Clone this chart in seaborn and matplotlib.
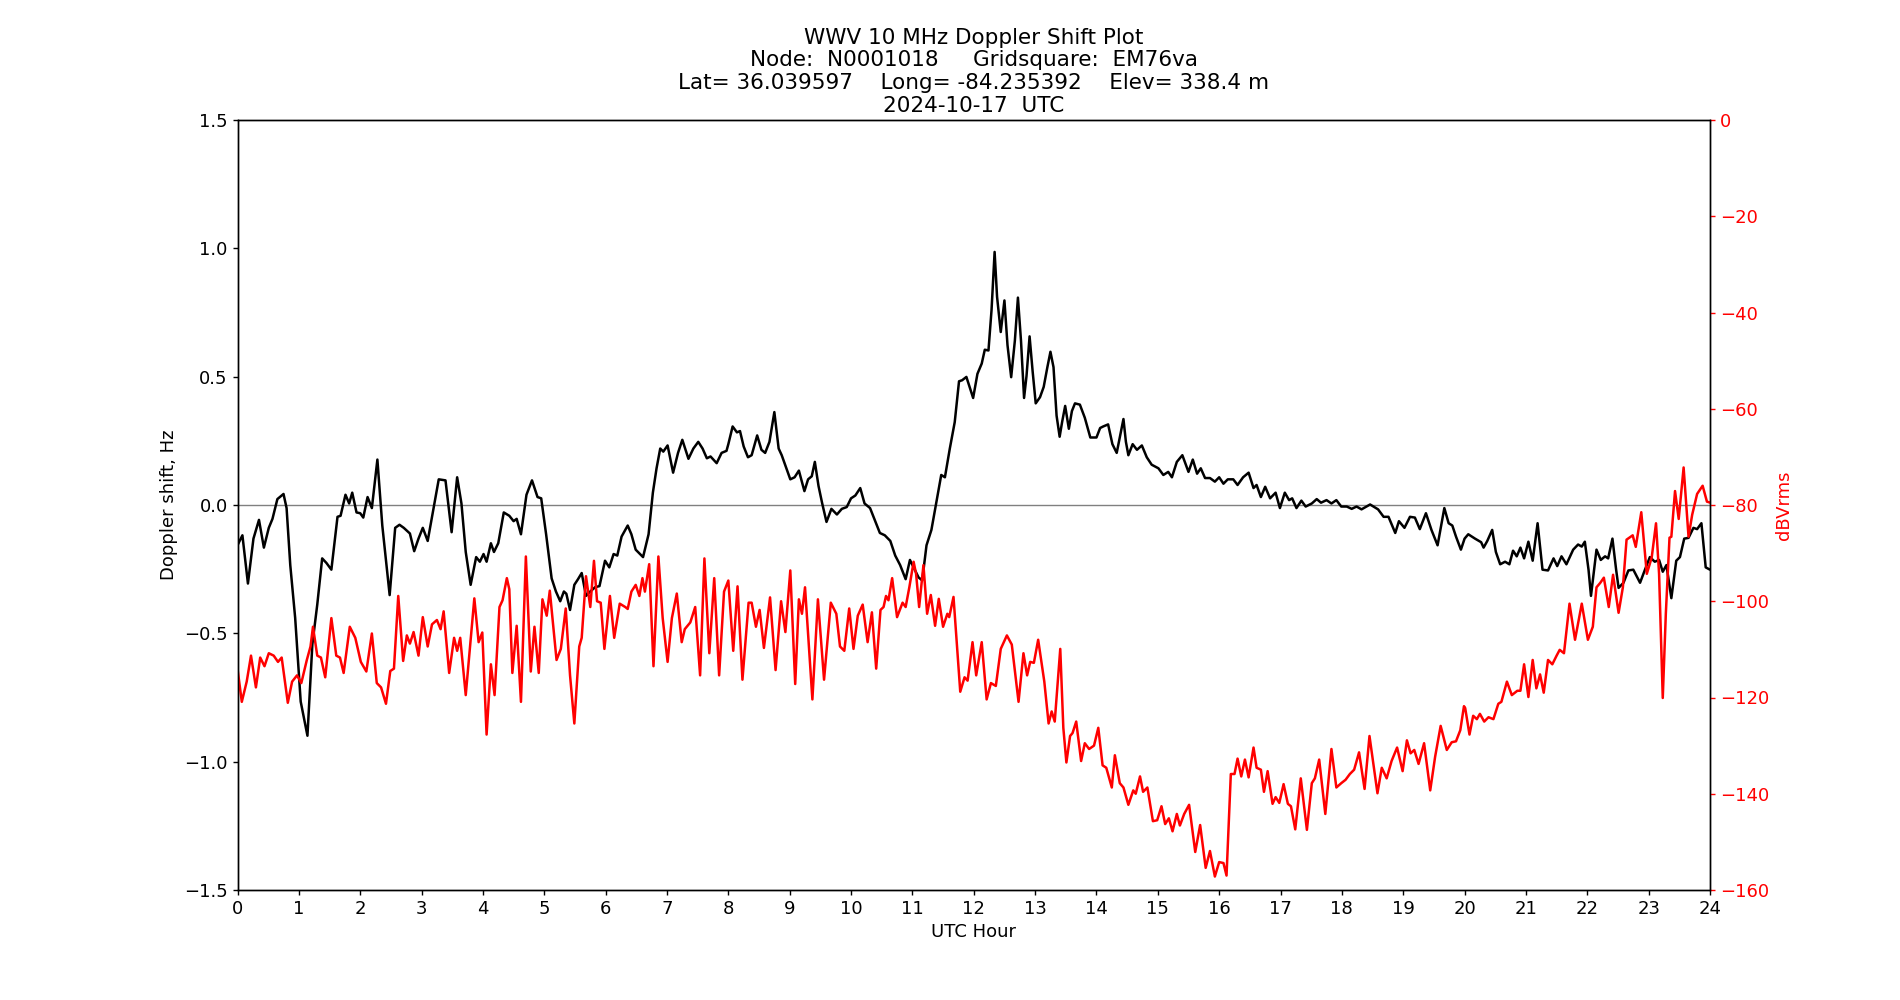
import matplotlib
matplotlib.use("Agg")
import matplotlib.pyplot as plt
import seaborn as sns
import pandas as pd

# ---------------- Doppler shift (Hz) ----------------
dop_hour = [0.00, 0.08, 0.17, 0.26, 0.35, 0.43, 0.51, 0.57, 0.65, 0.75, 0.80, 0.86, 0.94, 1.03, 1.14, 1.22,
            1.30, 1.38, 1.45, 1.53, 1.63, 1.68, 1.76, 1.82, 1.87, 1.94, 2.00, 2.05, 2.12, 2.19, 2.28, 2.36,
            2.48, 2.57, 2.64, 2.71, 2.81, 2.88, 2.95, 3.02, 3.10, 3.19, 3.28, 3.39, 3.49, 3.58, 3.65, 3.72,
            3.80, 3.89, 3.95, 4.01, 4.06, 4.13, 4.18, 4.25, 4.34, 4.43, 4.50, 4.55, 4.62, 4.71, 4.80, 4.89,
            4.95, 5.03, 5.12, 5.19, 5.26, 5.32, 5.36, 5.42, 5.49, 5.55, 5.61, 5.68, 5.75, 5.83, 5.90, 5.99,
            6.06, 6.13, 6.19, 6.26, 6.36, 6.42, 6.49, 6.61, 6.70, 6.77, 6.83, 6.89, 6.94, 7.01, 7.10, 7.18,
            7.25, 7.35, 7.43, 7.51, 7.58, 7.65, 7.71, 7.81, 7.89, 7.97, 8.00, 8.07, 8.14, 8.19, 8.25, 8.32,
            8.38, 8.47, 8.54, 8.60, 8.67, 8.75, 8.82, 8.87, 8.92, 9.01, 9.08, 9.15, 9.24, 9.30, 9.36, 9.41,
            9.47, 9.53, 9.60, 9.68, 9.77, 9.85, 9.93, 10.00, 10.07, 10.15, 10.22, 10.31, 10.38, 10.47, 10.55,
            10.64, 10.72, 10.80, 10.89, 10.96, 11.02, 11.10, 11.16, 11.23, 11.31, 11.40, 11.47, 11.53, 11.61,
            11.69, 11.76, 11.81, 11.88, 11.99, 12.06, 12.13, 12.18, 12.24, 12.29, 12.34, 12.38, 12.44, 12.50,
            12.55, 12.61, 12.67, 12.72, 12.77, 12.82, 12.86, 12.91, 12.96, 13.01, 13.08, 13.14, 13.20, 13.25,
            13.30, 13.35, 13.40, 13.44, 13.49, 13.55, 13.60, 13.65, 13.73, 13.81, 13.90, 14.00, 14.06, 14.11,
            14.19, 14.26, 14.33, 14.38, 14.44, 14.48, 14.52, 14.59, 14.66, 14.74, 14.82, 14.90, 15.01, 15.09,
            15.17, 15.23, 15.31, 15.40, 15.50, 15.57, 15.64, 15.70, 15.77, 15.85, 15.93, 16.00, 16.07, 16.14,
            16.23, 16.30, 16.39, 16.48, 16.56, 16.61, 16.68, 16.75, 16.83, 16.92, 16.99, 17.07, 17.14, 17.19,
            17.26, 17.34, 17.41, 17.51, 17.59, 17.66, 17.75, 17.83, 17.91, 17.99, 18.08, 18.16, 18.24, 18.32,
            18.46, 18.59, 18.68, 18.76, 18.87, 18.93, 19.02, 19.11, 19.19, 19.27, 19.37, 19.46, 19.56, 19.67,
            19.74, 19.80, 19.86, 19.94, 20.00, 20.06, 20.17, 20.27, 20.31, 20.37, 20.45, 20.51, 20.58, 20.66,
            20.73, 20.79, 20.85, 20.91, 20.97, 21.04, 21.11, 21.19, 21.27, 21.36, 21.45, 21.51, 21.58, 21.66,
            21.77, 21.85, 21.91, 21.96, 22.02, 22.06, 22.15, 22.22, 22.29, 22.34, 22.41, 22.47, 22.51, 22.59,
            22.67, 22.75, 22.86, 22.94, 23.02, 23.10, 23.17, 23.23, 23.29, 23.37, 23.45, 23.51, 23.58, 23.65,
            23.73, 23.79, 23.86, 23.93, 24.00]
dop_hz = [-0.157, -0.118, -0.306, -0.131, -0.058, -0.166, -0.089, -0.054, 0.023, 0.043, -0.012, -0.234, -0.440,
          -0.766, -0.899, -0.543, -0.388, -0.208, -0.226, -0.252, -0.046, -0.042, 0.040, 0.006, 0.048, -0.029,
          -0.032, -0.049, 0.031, -0.012, 0.177, -0.080, -0.351, -0.089, -0.077, -0.089, -0.111, -0.180, -0.131,
          -0.089, -0.140, -0.020, 0.100, 0.096, -0.106, 0.108, 0.006, -0.183, -0.311, -0.203, -0.221, -0.191,
          -0.221, -0.149, -0.183, -0.149, -0.029, -0.042, -0.063, -0.054, -0.114, 0.040, 0.096, 0.031, 0.026,
          -0.114, -0.286, -0.337, -0.375, -0.337, -0.346, -0.409, -0.311, -0.289, -0.265, -0.354, -0.337,
          -0.320, -0.316, -0.217, -0.243, -0.191, -0.197, -0.123, -0.080, -0.114, -0.174, -0.203, -0.114,
          0.048, 0.143, 0.220, 0.208, 0.232, 0.126, 0.203, 0.254, 0.180, 0.220, 0.246, 0.220, 0.182, 0.189,
          0.163, 0.203, 0.211, 0.237, 0.306, 0.283, 0.288, 0.228, 0.186, 0.194, 0.271, 0.215, 0.203, 0.246,
          0.362, 0.220, 0.194, 0.160, 0.100, 0.108, 0.134, 0.054, 0.100, 0.112, 0.168, 0.074, 0.006, -0.066,
          -0.015, -0.037, -0.015, -0.008, 0.026, 0.037, 0.066, 0.006, -0.012, -0.054, -0.109, -0.118, -0.140,
          -0.197, -0.234, -0.289, -0.214, -0.243, -0.282, -0.294, -0.157, -0.097, 0.023, 0.117, 0.108, 0.220,
          0.323, 0.482, 0.486, 0.499, 0.417, 0.511, 0.551, 0.605, 0.602, 0.760, 0.986, 0.811, 0.674, 0.797,
          0.623, 0.498, 0.640, 0.808, 0.640, 0.417, 0.503, 0.657, 0.520, 0.396, 0.420, 0.460, 0.537, 0.597,
          0.537, 0.348, 0.266, 0.323, 0.386, 0.297, 0.366, 0.396, 0.391, 0.340, 0.263, 0.263, 0.300, 0.306,
          0.314, 0.237, 0.203, 0.263, 0.335, 0.246, 0.194, 0.237, 0.215, 0.232, 0.186, 0.157, 0.143, 0.117,
          0.129, 0.108, 0.168, 0.194, 0.129, 0.177, 0.122, 0.143, 0.105, 0.105, 0.091, 0.108, 0.083, 0.100,
          0.100, 0.078, 0.108, 0.126, 0.066, 0.078, 0.031, 0.071, 0.026, 0.048, -0.012, 0.048, 0.019, 0.026,
          -0.012, 0.017, -0.006, 0.006, 0.023, 0.009, 0.019, 0.006, 0.019, -0.006, -0.006, -0.015, -0.006,
          -0.017, 0.002, -0.017, -0.046, -0.046, -0.109, -0.063, -0.089, -0.046, -0.049, -0.094, -0.032,
          -0.097, -0.157, -0.012, -0.071, -0.080, -0.123, -0.174, -0.131, -0.114, -0.131, -0.145, -0.166,
          -0.140, -0.097, -0.183, -0.231, -0.221, -0.231, -0.178, -0.200, -0.166, -0.208, -0.143, -0.217,
          -0.071, -0.252, -0.255, -0.208, -0.238, -0.200, -0.231, -0.174, -0.154, -0.162, -0.143, -0.252,
          -0.354, -0.174, -0.214, -0.200, -0.208, -0.131, -0.252, -0.323, -0.303, -0.255, -0.252, -0.303,
          -0.252, -0.203, -0.221, -0.214, -0.260, -0.234, -0.363, -0.217, -0.203, -0.131, -0.128, -0.089,
          -0.094, -0.071, -0.243, -0.252]

# ---------------- Signal level (dBVrms) ----------------
amp_hour = [0.00, 0.07, 0.15, 0.22, 0.30, 0.37, 0.44, 0.51, 0.59, 0.66, 0.72, 0.82, 0.89, 0.97, 1.04, 1.13,
            1.19, 1.23, 1.30, 1.36, 1.43, 1.53, 1.61, 1.67, 1.73, 1.83, 1.92, 2.01, 2.10, 2.19, 2.27, 2.34,
            2.42, 2.49, 2.55, 2.62, 2.70, 2.76, 2.81, 2.87, 2.95, 3.02, 3.10, 3.17, 3.25, 3.31, 3.36, 3.45,
            3.53, 3.58, 3.63, 3.72, 3.86, 3.93, 3.99, 4.06, 4.13, 4.19, 4.27, 4.32, 4.39, 4.43, 4.48, 4.55,
            4.62, 4.70, 4.78, 4.84, 4.91, 4.97, 5.04, 5.09, 5.20, 5.27, 5.35, 5.42, 5.49, 5.57, 5.61, 5.68,
            5.75, 5.81, 5.86, 5.92, 5.98, 6.07, 6.14, 6.23, 6.32, 6.36, 6.42, 6.49, 6.55, 6.60, 6.64, 6.71,
            6.78, 6.86, 6.93, 7.01, 7.08, 7.16, 7.24, 7.29, 7.38, 7.46, 7.54, 7.61, 7.69, 7.77, 7.85, 7.93,
            8.00, 8.08, 8.15, 8.23, 8.33, 8.38, 8.45, 8.51, 8.58, 8.68, 8.77, 8.86, 8.93, 9.01, 9.09, 9.15,
            9.20, 9.25, 9.37, 9.46, 9.56, 9.67, 9.76, 9.82, 9.89, 9.97, 10.04, 10.11, 10.19, 10.27, 10.34,
            10.41, 10.48, 10.53, 10.57, 10.61, 10.67, 10.75, 10.84, 10.89, 10.95, 11.02, 11.06, 11.11, 11.18,
            11.24, 11.30, 11.37, 11.43, 11.50, 11.57, 11.60, 11.67, 11.78, 11.85, 11.90, 11.98, 12.04, 12.13,
            12.21, 12.28, 12.36, 12.44, 12.54, 12.62, 12.73, 12.81, 12.87, 12.92, 12.98, 13.05, 13.15, 13.22,
            13.27, 13.32, 13.41, 13.46, 13.51, 13.57, 13.61, 13.67, 13.75, 13.81, 13.88, 13.96, 14.03, 14.10,
            14.16, 14.25, 14.30, 14.38, 14.44, 14.52, 14.60, 14.64, 14.71, 14.76, 14.83, 14.92, 14.99, 15.06,
            15.12, 15.18, 15.24, 15.31, 15.36, 15.43, 15.51, 15.61, 15.69, 15.78, 15.85, 15.93, 16.00, 16.07,
            16.12, 16.19, 16.25, 16.30, 16.36, 16.42, 16.48, 16.56, 16.61, 16.68, 16.73, 16.79, 16.87, 16.92,
            16.98, 17.05, 17.12, 17.17, 17.24, 17.33, 17.43, 17.51, 17.56, 17.63, 17.73, 17.83, 17.91, 17.99,
            18.06, 18.13, 18.20, 18.28, 18.37, 18.45, 18.58, 18.65, 18.73, 18.81, 18.90, 18.99, 19.06, 19.12,
            19.18, 19.25, 19.34, 19.44, 19.52, 19.61, 19.71, 19.79, 19.86, 19.93, 19.99, 20.01, 20.08, 20.14,
            20.20, 20.25, 20.32, 20.39, 20.47, 20.55, 20.60, 20.69, 20.77, 20.86, 20.91, 20.97, 21.04, 21.11,
            21.17, 21.23, 21.29, 21.36, 21.43, 21.50, 21.55, 21.62, 21.71, 21.80, 21.91, 22.01, 22.09, 22.15,
            22.21, 22.27, 22.35, 22.42, 22.51, 22.58, 22.64, 22.74, 22.79, 22.88, 22.97, 23.05, 23.12, 23.17,
            23.23, 23.28, 23.34, 23.37, 23.43, 23.49, 23.57, 23.65, 23.71, 23.79, 23.88, 23.95, 24.00]
amp_db = [-114.0, -120.9, -116.7, -111.3, -117.9, -111.7, -113.5, -110.8, -111.3, -112.6, -111.7, -121.1,
          -116.7, -115.4, -117.0, -112.2, -109.4, -105.3, -111.3, -111.7, -115.8, -103.5, -111.3, -111.7,
          -114.9, -105.3, -107.6, -112.6, -114.6, -106.7, -117.0, -117.9, -121.3, -114.5, -114.0, -98.9,
          -112.4, -107.1, -108.8, -106.4, -111.3, -103.3, -109.4, -104.8, -103.9, -105.8, -102.1, -114.9,
          -107.6, -110.3, -107.6, -119.5, -99.4, -108.5, -106.5, -127.7, -113.1, -119.5, -101.2, -99.8,
          -95.2, -97.5, -114.9, -105.1, -120.9, -90.7, -114.6, -105.3, -114.9, -99.6, -103.0, -97.8,
          -112.2, -109.9, -101.5, -115.4, -125.4, -109.4, -107.6, -94.8, -101.2, -91.6, -100.0, -100.3,
          -109.9, -98.9, -107.6, -100.5, -101.2, -101.6, -98.0, -96.6, -98.9, -95.2, -98.0, -92.3,
          -113.5, -90.7, -103.5, -112.6, -103.5, -98.4, -108.5, -105.8, -104.4, -101.2, -115.4, -91.1,
          -110.8, -95.2, -115.4, -98.0, -95.7, -110.3, -96.9, -116.3, -100.3, -100.3, -105.3, -101.8,
          -109.7, -99.2, -114.3, -100.0, -106.4, -93.6, -117.2, -99.6, -102.6, -97.1, -120.4, -99.6,
          -116.3, -100.3, -102.6, -109.4, -110.3, -101.5, -109.9, -103.0, -100.7, -108.5, -102.3, -114.0,
          -101.8, -101.2, -98.9, -99.8, -95.2, -103.3, -100.3, -101.2, -97.1, -91.8, -94.3, -101.2, -92.5,
          -102.6, -98.7, -105.1, -99.5, -105.3, -102.6, -103.3, -99.1, -118.8, -115.8, -116.5, -108.5,
          -115.4, -108.5, -120.4, -117.0, -117.6, -109.9, -107.1, -109.0, -120.9, -110.8, -115.4, -112.6,
          -112.8, -108.0, -116.7, -125.4, -122.9, -125.0, -109.9, -126.3, -133.5, -128.0, -127.4, -125.0,
          -133.2, -129.5, -130.7, -130.0, -126.3, -134.1, -134.6, -138.7, -132.0, -137.8, -138.7, -142.3,
          -139.3, -140.0, -136.4, -139.6, -138.7, -145.7, -145.5, -142.6, -146.3, -145.1, -147.8, -144.2,
          -146.6, -144.2, -142.3, -152.1, -146.5, -155.4, -151.9, -157.2, -154.2, -154.4, -157.0, -135.9,
          -135.9, -132.7, -136.4, -132.9, -136.6, -130.4, -134.6, -135.0, -139.6, -135.3, -142.1, -140.7,
          -141.9, -138.0, -142.1, -142.6, -147.4, -136.8, -147.5, -137.8, -136.8, -132.9, -144.2, -130.7,
          -138.7, -137.8, -137.1, -135.9, -135.0, -131.4, -139.0, -128.0, -139.9, -134.6, -136.8, -133.2,
          -130.4, -135.3, -128.9, -131.6, -130.9, -133.8, -129.5, -139.3, -132.3, -125.9, -130.9, -129.3,
          -129.1, -126.8, -121.8, -122.2, -127.7, -123.8, -124.5, -123.4, -125.0, -124.1, -124.5, -121.3,
          -120.9, -116.7, -119.5, -118.6, -118.6, -113.1, -119.9, -112.2, -118.1, -115.2, -119.0, -112.2,
          -113.1, -111.3, -110.1, -110.8, -100.5, -108.0, -100.5, -108.0, -105.3, -97.1, -96.2, -95.1,
          -101.2, -94.5, -102.4, -97.1, -87.2, -86.3, -88.7, -81.5, -94.3, -90.9, -83.8, -94.3, -120.1,
          -102.6, -86.8, -86.6, -77.1, -82.9, -72.2, -86.6, -82.0, -77.7, -76.0, -79.3, -79.5]

title_lines = ["WWV 10 MHz Doppler Shift Plot",
               "Node:  N0001018     Gridsquare:  EM76va",
               "Lat= 36.039597    Long= -84.235392    Elev= 338.4 m",
               "2024-10-17  UTC"]
x_ticks = list(range(0, 25))
left_ticks = [-1.5, -1.0, -0.5, 0.0, 0.5, 1.0, 1.5]
right_ticks = [-160, -140, -120, -100, -80, -60, -40, -20, 0]

sns.set_style("white")
plt.rcParams["font.family"] = ["DejaVu Sans"]
plt.rcParams["xtick.bottom"] = True
plt.rcParams["ytick.left"] = True
plt.rcParams["axes.edgecolor"] = "black"
plt.rcParams["axes.linewidth"] = 1.0
plt.rcParams["text.color"] = "black"
plt.rcParams["axes.labelcolor"] = "black"
plt.rcParams["xtick.color"] = "black"
plt.rcParams["ytick.color"] = "black"

dop_df = pd.DataFrame({"hour": dop_hour, "shift": dop_hz})
amp_df = pd.DataFrame({"hour": amp_hour, "db": amp_db})

fig, ax = plt.subplots(figsize=(19, 10), dpi=100)
fig.subplots_adjust(left=0.125, right=0.9, bottom=0.11, top=0.88)

ax.axhline(0, color="grey", linewidth=1.0, zorder=1)
sns.lineplot(data=dop_df, x="hour", y="shift", ax=ax, color="black", linewidth=1.8,
             estimator=None, sort=False, zorder=3)
ax.set_xlim(0, 24)
ax.set_ylim(-1.5, 1.5)
ax.set_xticks(x_ticks)
ax.set_yticks(left_ticks)
ax.set_xlabel("UTC Hour", fontsize=13, color="black")
ax.set_ylabel("Doppler shift, Hz", fontsize=13, color="black")
ax.tick_params(axis="both", labelsize=13, direction="out", length=3.5, width=1, colors="black")

ax2 = ax.twinx()
sns.lineplot(data=amp_df, x="hour", y="db", ax=ax2, color="red", linewidth=1.8,
             estimator=None, sort=False, zorder=2)
ax2.set_ylim(-160, 0)
ax2.set_yticks(right_ticks)
ax2.set_xlim(0, 24)
ax2.set_ylabel("dBVrms", color="red", fontsize=13)
ax2.tick_params(axis="y", labelsize=13, colors="red", direction="out", length=3.5, width=1, right=True)
for lab in ax2.get_yticklabels():
    lab.set_color("red")
ax2.spines["right"].set_color("black")

ax.set_title("\n".join(title_lines), fontsize=15.5, linespacing=1.17, color="black")

fig.savefig("out.png", dpi=100)
